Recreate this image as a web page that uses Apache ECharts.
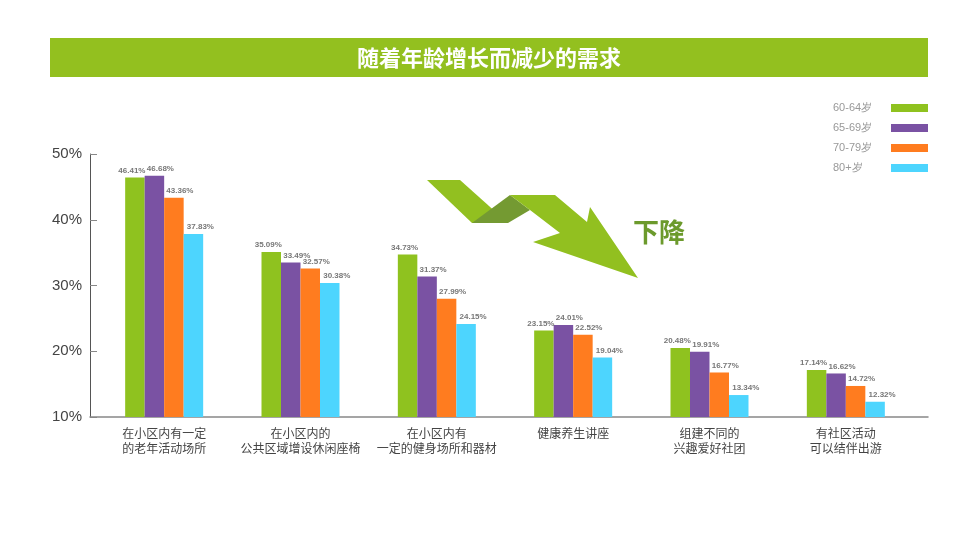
<!DOCTYPE html>
<html><head><meta charset="utf-8">
<script src="https://cdn.jsdelivr.net/npm/echarts@6/dist/echarts.min.js"></script>
<style>html,body{margin:0;padding:0;background:#fff}#c{width:979px;height:554px}</style>
</head><body><div id="c"></div>
<script>
const titleText = '随着年龄增长而减少的需求';
const categories = ['在小区内有一定\n的老年活动场所','在小区内的\n公共区域增设休闲座椅','在小区内有\n一定的健身场所和器材','健康养生讲座','组建不同的\n兴趣爱好社团','有社区活动\n可以结伴出游'];
const seriesNames = ['60-64岁','65-69岁','70-79岁','80+岁'];
const s6064 = [46.41, 35.09, 34.73, 23.15, 20.48, 17.14];
const s6569 = [46.68, 33.49, 31.37, 24.01, 19.91, 16.62];
const s7079 = [43.36, 32.57, 27.99, 22.52, 16.77, 14.72];
const s80 = [37.83, 30.38, 24.15, 19.04, 13.34, 12.32];
const yTicks = [10, 20, 30, 40, 50];
const colors = ['#8fc21f', '#7a52a3', '#ff7c1f', '#4dd5fe'];
const labelShift = [-3, 6, 6, 7];
const allSeries = [s6064, s6569, s7079, s80];

const chart = echarts.init(document.getElementById('c'));
const FONT = '"Noto Sans CJK SC", "Noto Sans", sans-serif';
chart.setOption({
  animation: false,
  color: colors,
  textStyle: { fontFamily: FONT },
  legend: {
    orient: 'vertical', right: 51, top: 101, align: 'right', padding: 0,
    itemWidth: 37, itemHeight: 8, itemGap: 6,
    icon: 'rect',
    formatter: n => '{a|' + n + '}',
    textStyle: { color: '#999', fontSize: 11, lineHeight: 14, fontFamily: '"Liberation Sans", sans-serif',
      rich: { a: { width: 53, align: 'left', color: '#999', fontSize: 11, fontFamily: '"Liberation Sans", sans-serif' } } },
    data: seriesNames
  },
  grid: [
    { left: 96, right: 65, top: 154, bottom: 137 },
    { left: 90, right: 51, top: 154, bottom: 137 }
  ],
  xAxis: [
    { type: 'category', gridIndex: 0, data: categories,
      axisLine: { show: false }, axisTick: { show: false },
      axisLabel: { color: '#444', fontSize: 12, lineHeight: 15, margin: 9, interval: 0 } },
    { type: 'value', gridIndex: 1, min: 0, max: 1,
      axisLine: { show: true, onZero: false, lineStyle: { color: '#888', width: 1.5 } },
      axisTick: { show: false }, axisLabel: { show: false }, splitLine: { show: false } }
  ],
  yAxis: [
    { type: 'value', gridIndex: 0, min: yTicks[0], max: yTicks[yTicks.length-1], interval: 10, offset: 6,
      axisLine: { show: true, lineStyle: { color: '#555', width: 1 } },
      axisTick: { show: true, inside: true, length: 7, lineStyle: { color: '#888' } },
      splitLine: { show: false },
      axisLabel: { formatter: '{value}%', color: '#444', fontSize: 15, margin: 8, fontFamily: '"Liberation Sans", sans-serif' } },
    { type: 'value', gridIndex: 1, show: false }
  ],
  graphic: [
    { type: 'rect', shape: { x: 50, y: 38, width: 878, height: 39 }, style: { fill: '#93c01f' },
      textContent: { style: { text: titleText, fill: '#fff', font: 'bold 22px "Noto Sans CJK SC", sans-serif' } },
      textConfig: { position: 'inside' } },
    { type: 'polygon', shape: { points: [[427,180],[460,180],[508,223],[472,223]] }, style: { fill: '#92c020' } },
    { type: 'polygon', shape: { points: [[472,223],[510,195],[530,210],[508,223]] }, style: { fill: '#749a32' } },
    { type: 'polygon', shape: { points: [[510,195],[555,195],[587,222],[590,207],[638,278],[533,242],[560,233],[530,210]] }, style: { fill: '#92c020' } },
    { type: 'text', x: 659, y: 232, style: { text: '下降', fill: '#6c9a2c', font: 'bold 26px "Noto Sans CJK SC", sans-serif', align: 'center', verticalAlign: 'middle' } }
  ],
  series: allSeries.map((d, i) => ({
    name: seriesNames[i], type: 'bar', xAxisIndex: 0, yAxisIndex: 0,
    data: d, barWidth: 19.5, barGap: '0%',
    label: { show: true, position: 'top', distance: 3, offset: [labelShift[i], 0],
      formatter: p => p.value.toFixed(2) + '%',
      color: '#777', fontSize: 8, fontWeight: 'bold', fontFamily: '"Liberation Sans", sans-serif' }
  }))
});
</script></body></html>
